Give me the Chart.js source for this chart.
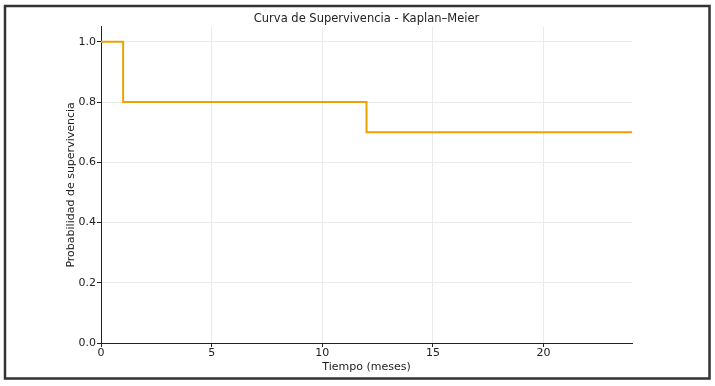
<!DOCTYPE html>
<html>
<head>
<meta charset="utf-8">
<script src="https://cdn.jsdelivr.net/npm/chart.js@4"></script>
<style>
  html, body { margin: 0; padding: 0; background: #fff; }
  #wrap { width: 715px; height: 386px; }
</style>
</head>
<body>
<div id="wrap"><canvas id="chartCanvas" width="715" height="386"></canvas></div>
<script>
// Kaplan-Meier data
const tiempos = [0, 1, 12, 24];
const supervivencia = [1.0, 0.8, 0.7, 0.7];
const xTicks = [0, 5, 10, 15, 20];
const yTicks = [0.0, 0.2, 0.4, 0.6, 0.8, 1.0];

const FONT = "'DejaVu Sans', sans-serif";

// dark frame around the whole figure
const framePlugin = {
    id: 'frame',
    afterDraw(chart) {
        const ctx = chart.ctx;
        ctx.save();
        ctx.strokeStyle = '#333';
        ctx.lineWidth = 2.5;
        ctx.strokeRect(5, 6, 704.5, 372.5);
        ctx.restore();
    }
};

const points = tiempos.map((t, i) => ({ x: t, y: supervivencia[i] }));

const ctx = document.getElementById('chartCanvas').getContext('2d');
new Chart(ctx, {
    type: 'line',
    data: {
        datasets: [{
            data: points,
            stepped: 'before',
            borderColor: '#EEA200',
            borderWidth: 2,
            pointRadius: 0,
            fill: false,
            clip: false
        }]
    },
    options: {
        responsive: false,
        animation: false,
        layout: { padding: { top: 0, right: 83, bottom: 0, left: 60 } },
        plugins: {
            legend: { display: false },
            tooltip: { enabled: false },
            title: {
                display: true,
                fullSize: false, // center over the plot area like matplotlib
                text: 'Curva de Supervivencia - Kaplan–Meier',
                color: '#222',
                font: { family: FONT, size: 11.5, weight: 'normal' },
                padding: { top: 12, bottom: 1 }
            }
        },
        scales: {
            x: {
                type: 'linear',
                min: 0,
                max: 24,
                afterBuildTicks(axis) { axis.ticks = xTicks.map(v => ({ value: v })); },
                afterFit(scale) { scale.height = 43; },
                ticks: {
                    color: '#222',
                    font: { family: FONT, size: 11 },
                    padding: 0,
                    maxRotation: 0,
                    callback: v => String(v)
                },
                grid: { color: '#ebebeb', tickColor: '#222', tickLength: 4 },
                border: { color: '#222', width: 1 },
                title: {
                    display: true,
                    text: 'Tiempo (meses)',
                    color: '#222',
                    font: { family: FONT, size: 11 },
                    padding: { top: 0, bottom: 12 }
                }
            },
            y: {
                min: 0,
                max: 1.05,
                afterBuildTicks(axis) { axis.ticks = yTicks.map(v => ({ value: v })); },
                afterFit(scale) { scale.width = 41; },
                ticks: {
                    color: '#222',
                    font: { family: FONT, size: 11 },
                    padding: 1,
                    callback: v => Number(v).toFixed(1)
                },
                grid: { color: '#ebebeb', tickColor: '#222', tickLength: 4 },
                border: { color: '#222', width: 1 },
                title: {
                    display: true,
                    text: 'Probabilidad de supervivencia',
                    color: '#222',
                    font: { family: FONT, size: 11 },
                    padding: { top: 5, bottom: 0 }
                }
            }
        }
    },
    plugins: [framePlugin]
});
</script>
</body>
</html>
